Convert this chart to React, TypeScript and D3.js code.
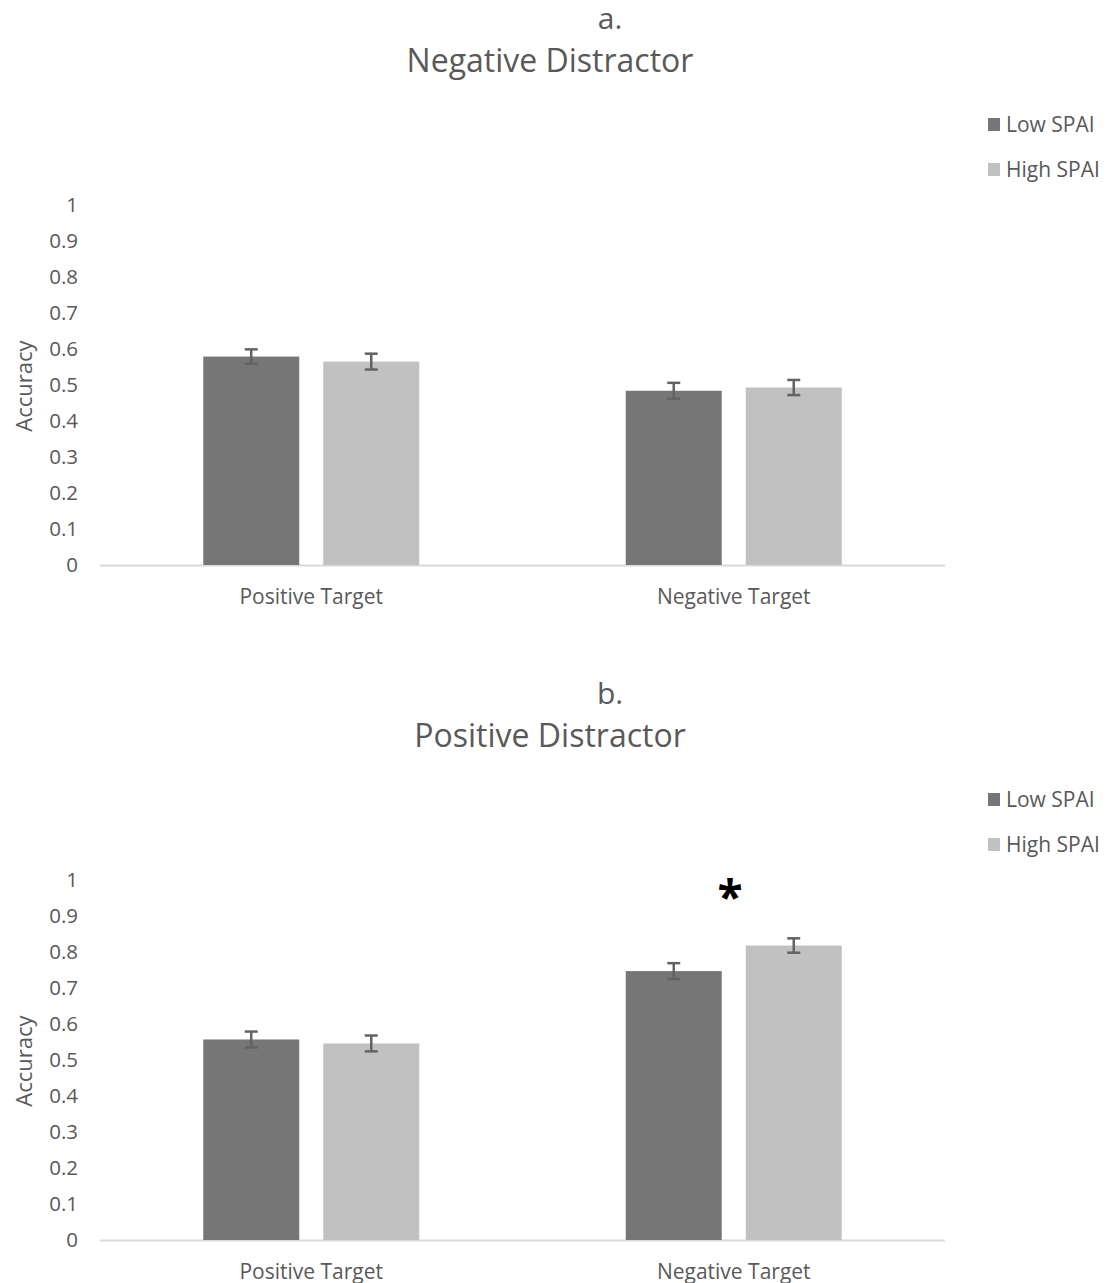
import React from "react";
import * as d3 from "d3";

const categories = ["Positive Target", "Negative Target"];
const groups = ["Low SPAI", "High SPAI"];
const panelLetters = ["a.", "b."];
const panelTitles = ["Negative Distractor", "Positive Distractor"];
const negLow = [0.579, 0.484];
const negHigh = [0.565, 0.493];
const negLowErr = [0.02, 0.022];
const negHighErr = [0.022, 0.021];
const posLow = [0.557, 0.747];
const posHigh = [0.546, 0.818];
const posLowErr = [0.022, 0.022];
const posHighErr = [0.022, 0.02];
const yTicks = [0, 0.1, 0.2, 0.3, 0.4, 0.5, 0.6, 0.7, 0.8, 0.9, 1];
const colors = ["#767676", "#c1c1c1"];
const FONT = "'Open Sans', 'Noto Sans', sans-serif";
const TXT = "#595959";

function Panel({ offsetY, letter, title, low, high, lowErr, highErr, star }) {
  const y = d3.scaleLinear().domain([0, 1]).range([565, 205]);
  const x0 = d3.scaleBand().domain(categories).range([100, 945]);
  const x1 = d3.scaleBand().domain(groups).range([-108, 108]).paddingInner(0.2);
  const vals = [low, high];
  const errs = [lowErr, highErr];
  return (
    <g transform={`translate(0,${offsetY})`}>
      <text x={610} y={29} textAnchor="middle" fontSize={30} fill={TXT} fontFamily={FONT}>{letter}</text>
      <text x={550} y={72} textAnchor="middle" fontSize={32} fill={TXT} fontFamily={FONT}>{title}</text>
      {groups.map((g, i) => (
        <g key={g}>
          <rect x={988} y={118 + i * 45} width={12} height={13} fill={colors[i]} />
          <text x={1006} y={132 + i * 45} fontSize={21} fill={TXT} fontFamily={FONT}>{g}</text>
        </g>
      ))}
      {yTicks.map((t) => (
        <text key={t} x={78} y={y(t) + 7} textAnchor="end" fontSize={20.5} fill={TXT} fontFamily={FONT}>{String(t)}</text>
      ))}
      <text transform={`translate(32,${386}) rotate(-90)`} textAnchor="middle" fontSize={22} fill={TXT} fontFamily={FONT}>Accuracy</text>
      <line x1={100} x2={945} y1={y(0) + 0.5} y2={y(0) + 0.5} stroke="#d9d9d9" strokeWidth={2} />
      {categories.map((c, ci) => {
        const cx = x0(c) + x0.bandwidth() / 2;
        return (
          <g key={c}>
            {groups.map((g, gi) => {
              const v = vals[gi][ci];
              const e = errs[gi][ci];
              const bx = cx + x1(g);
              const mx = bx + x1.bandwidth() / 2;
              return (
                <g key={g}>
                  <rect x={bx} y={y(v)} width={x1.bandwidth()} height={y(0) - y(v)} fill={colors[gi]} />
                  <line x1={mx} x2={mx} y1={y(v + e)} y2={y(v - e)} stroke="#636363" strokeWidth={2.5} />
                  <line x1={mx - 6.5} x2={mx + 6.5} y1={y(v + e)} y2={y(v + e)} stroke="#636363" strokeWidth={2.5} />
                  <line x1={mx - 6.5} x2={mx + 6.5} y1={y(v - e)} y2={y(v - e)} stroke="#636363" strokeWidth={2.5} />
                </g>
              );
            })}
            <text x={cx} y={604} textAnchor="middle" fontSize={21} fill={TXT} fontFamily={FONT}>{c}</text>
          </g>
        );
      })}
      {star && (
        <text x={730} y={y(0.82) - 31} textAnchor="middle" fontSize={46} fontWeight="bold" fill="#000" fontFamily={FONT}>*</text>
      )}
    </g>
  );
}

export default function App() {
  return (
    <svg width={1117} height={1283} style={{ position: "absolute", left: 0, top: 0, background: "#fff" }}>
      <rect width={1117} height={1283} fill="#fff" />
      <Panel offsetY={0} letter={panelLetters[0]} title={panelTitles[0]} low={negLow} high={negHigh} lowErr={negLowErr} highErr={negHighErr} star={false} />
      <Panel offsetY={675} letter={panelLetters[1]} title={panelTitles[1]} low={posLow} high={posHigh} lowErr={posLowErr} highErr={posHighErr} star={true} />
    </svg>
  );
}
